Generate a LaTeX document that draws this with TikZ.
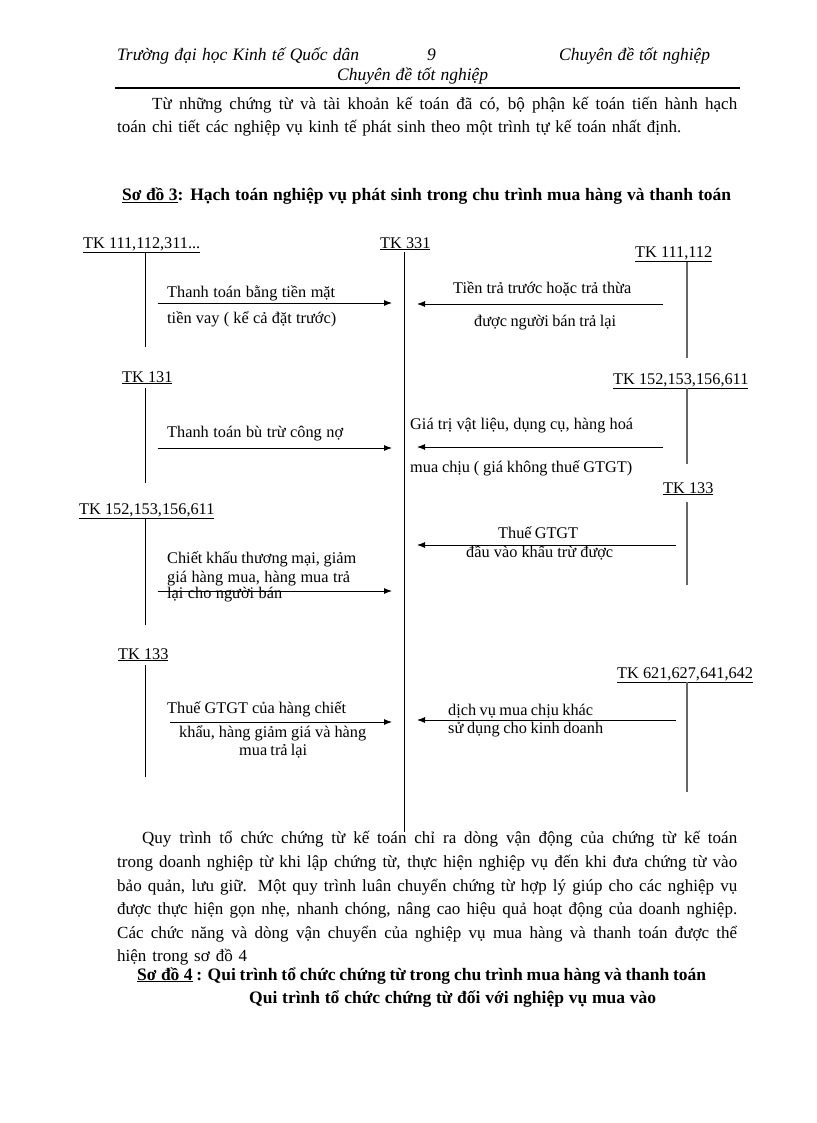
\documentclass[tikz,border=0pt]{standalone}
\usepackage{fontspec}
\setmainfont{Liberation Serif}
\usetikzlibrary{arrows.meta}
\newcommand\jbox[2]{\makebox[#1pt][s]{#2}}
\tikzset{
  txt/.style={anchor=base west, inner sep=0pt, font=\fontsize{16.3}{19}\selectfont},
  body/.style={anchor=base west, inner sep=0pt, font=\fontsize{17}{20}\selectfont},
  head/.style={anchor=base west, inner sep=0pt, font=\fontsize{17.5}{20}\selectfont\itshape},
  ttl/.style={anchor=base west, inner sep=0pt, font=\fontsize{17.5}{20}\selectfont\bfseries},
  acct/.style={line width=1pt},
  acctR/.style={line width=1.7pt, draw=black!60},
  main/.style={line width=1pt},
  flow/.style={line width=0.9pt, -{Latex[length=8pt,width=6pt]}},
}
\begin{document}
\begin{tikzpicture}[x=1pt,y=-1pt]
\useasboundingbox[fill=white] (0,0) rectangle (816,1123);
% header
\node[head] (h1) at (117,61) {\jbox{242}{Trường đại học Kinh tế Quốc dân}};
\node[head] (h2) at (427,61) {9};
\node[head] (h3) at (559,61) {\jbox{151}{Chuyên đề tốt nghiệp}};
\node[head] (h4) at (337,81) {\jbox{151}{Chuyên đề tốt nghiệp}};
\coordinate (r1) at (115,88); \coordinate (r2) at (740,88);
\draw[line width=2pt] (r1) -- (r2);
% intro paragraph
\node[body] (p1) at (152,110) {\jbox{585}{Từ những chứng từ và tài khoản kế toán đã có, bộ phận kế toán tiến hành hạch}};
\node[body] (p2) at (117,133) {\jbox{564}{toán chi tiết các nghiệp vụ kinh tế phát sinh theo một trình tự kế toán nhất định.}};
% title
\node[ttl] (t3) at (122,201) {\jbox{609}{\underline{Sơ đồ 3}: Hạch toán nghiệp vụ phát sinh trong chu trình mua hàng và thanh toán}};

% account labels
\node[txt] (k331) at (380,248) {\jbox{50}{\underline{TK 331}}};
\node[txt] (kL1) at (83,248) {\jbox{125}{\underline{TK 111,112,311...}}};
\node[txt] (kL2) at (122,382) {\jbox{50}{\underline{TK 131}}};
\node[txt] (kL3) at (79,514) {\jbox{138}{\underline{TK 152,153,156,611}}};
\node[txt] (kL4) at (118,659) {\jbox{51}{\underline{TK 133}}};
\node[txt] (kR1) at (635,257) {\jbox{80}{\underline{TK 111,112}}};
\node[txt] (kR2) at (613,384) {\jbox{138}{\underline{TK 152,153,156,611}}};
\node[txt] (kR3) at (663,493) {\jbox{50}{\underline{TK 133}}};
\node[txt] (kR4) at (617,678) {\jbox{136}{\underline{TK 621,627,641,642}}};

% vertical account lines
\coordinate (m0) at (404,252); \coordinate (m1) at (404,832);
\draw[main] (m0) -- (m1);
\coordinate (l1a) at (145,252); \coordinate (l1b) at (145,347);
\coordinate (l2a) at (145,388); \coordinate (l2b) at (145,483);
\coordinate (l3a) at (145,519); \coordinate (l3b) at (145,625);
\coordinate (l4a) at (145,665); \coordinate (l4b) at (145,777);
\draw[acct] (l1a) -- (l1b);
\draw[acct] (l2a) -- (l2b);
\draw[acct] (l3a) -- (l3b);
\draw[acct] (l4a) -- (l4b);
\coordinate (q1a) at (687,262); \coordinate (q1b) at (687,358);
\coordinate (q2a) at (687,388); \coordinate (q2b) at (687,464);
\coordinate (q3a) at (687,502); \coordinate (q3b) at (687,585);
\coordinate (q4a) at (687,682); \coordinate (q4b) at (687,792);
\draw[acctR] (q1a) -- (q1b);
\draw[acctR] (q2a) -- (q2b);
\draw[acctR] (q3a) -- (q3b);
\draw[acctR] (q4a) -- (q4b);

% left arrows
\coordinate (a1s) at (158,303); \coordinate (a1e) at (392,303);
\coordinate (a2s) at (158,448); \coordinate (a2e) at (392,448);
\coordinate (a3s) at (158,591); \coordinate (a3e) at (392,591);
\coordinate (a4s) at (170,722); \coordinate (a4e) at (392,722);
\draw[flow] (a1s) -- (a1e);
\draw[flow] (a2s) -- (a2e);
\draw[flow] (a3s) -- (a3e);
\draw[flow] (a4s) -- (a4e);
% right arrows
\coordinate (b1s) at (663,304); \coordinate (b1e) at (417,304);
\coordinate (b2s) at (663,447); \coordinate (b2e) at (417,447);
\coordinate (b3s) at (676,545); \coordinate (b3e) at (417,545);
\coordinate (b4s) at (676,720); \coordinate (b4e) at (417,720);
\draw[flow] (b1s) -- (b1e);
\draw[flow] (b2s) -- (b2e);
\draw[flow] (b3s) -- (b3e);
\draw[flow] (b4s) -- (b4e);

% left arrow texts
\node[txt] (x1a) at (167,297) {\jbox{168}{Thanh toán bằng tiền mặt}};
\node[txt] (x1b) at (167,323) {\jbox{169}{tiền vay ( kể cả đặt trước)}};
\node[txt] (x2a) at (167,437) {\jbox{176}{Thanh toán bù trừ công nợ}};
\node[txt] (x3a) at (167,563) {\jbox{189}{Chiết khấu thương mại, giảm}};
\node[txt] (x3b) at (167,582) {\jbox{183}{giá hàng mua, hàng mua trả}};
\node[txt] (x3c) at (167,598) {\jbox{115}{lại cho người bán}};
\node[txt] (x4a) at (167,713) {\jbox{179}{Thuế GTGT của hàng chiết}};
\node[txt] (x4b) at (179,737) {\jbox{187}{khẩu, hàng giảm giá và hàng}};
\node[txt] (x4c) at (239,755) {\jbox{68}{mua trả lại}};
% right arrow texts
\node[txt] (y1a) at (453,293) {\jbox{178}{Tiền trả trước hoặc trả thừa}};
\node[txt] (y1b) at (474,326) {\jbox{142}{được người bán trả lại}};
\node[txt] (y2a) at (410,429) {\jbox{223}{Giá trị vật liệu,  dụng cụ, hàng hoá}};
\node[txt] (y2b) at (410,472) {\jbox{222}{mua chịu ( giá không thuế GTGT)}};
\node[txt] (y3a) at (498,538) {\jbox{80}{Thuế GTGT}};
\node[txt] (y3b) at (466,557) {\jbox{147}{đầu vào khấu trừ được}};
\node[txt] (y4a) at (448,715) {\jbox{145}{dịch vụ mua chịu khác}};
\node[txt] (y4b) at (448,733) {\jbox{155}{sử dụng cho kinh doanh}};

% closing paragraph
\node[body] (c1) at (142,843) {\jbox{595}{Quy trình tổ chức chứng từ kế toán chỉ ra dòng vận động của chứng từ kế toán}};
\node[body] (c2) at (117,867) {\jbox{620}{trong doanh nghiệp từ khi lập chứng từ, thực hiện nghiệp vụ đến khi đưa chứng từ vào}};
\node[body] (c3) at (117,891) {\jbox{620}{bảo quản, lưu giữ. Một quy trình luân chuyển chứng từ hợp lý giúp cho các nghiệp vụ}};
\node[body] (c4) at (117,914) {\jbox{620}{được thực hiện gọn nhẹ, nhanh chóng, nâng cao hiệu quả hoạt động của doanh nghiệp.}};
\node[body] (c5) at (117,938) {\jbox{620}{Các chức năng và dòng vận chuyển của nghiệp vụ mua hàng và thanh toán được thể}};
\node[body] (c6) at (117,961) {\jbox{130}{hiện trong sơ đồ 4}};
\node[ttl] (t4) at (137,980) {\jbox{569}{\underline{Sơ đồ 4} : Qui trình tổ chức chứng từ trong chu trình mua hàng và thanh toán}};
\node[ttl] (t5) at (249,1003) {\jbox{407}{Qui trình tổ chức chứng từ đối với nghiệp vụ mua vào}};
\end{tikzpicture}
\end{document}
